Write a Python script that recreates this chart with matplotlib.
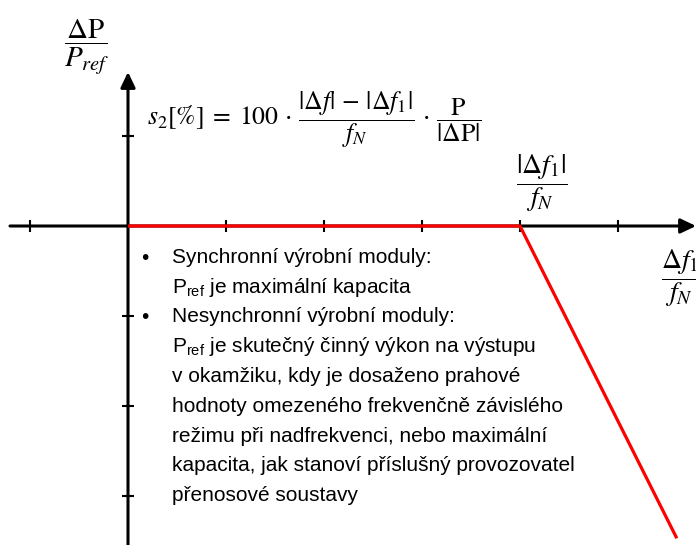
import matplotlib
matplotlib.use("Agg")
import matplotlib.pyplot as plt

# sans math for the P_ref subscripts in the bullet text
plt.rcParams['mathtext.rm'] = 'Liberation Sans'
plt.rcParams['mathtext.it'] = 'Liberation Sans:italic'
plt.rcParams['mathtext.bf'] = 'Liberation Sans:bold'

# --- data ---
x_ticks = [-1, 1, 2, 3, 4, 5]
y_ticks = [1, -1, -2, -3]
droop_x = [0, 4, 5.6]
droop_y = [0, 0, -3.47]

formula = (r"$s_2[\%]\;=\;100\,\cdot\,\dfrac{|\Delta f|\,-\,|\Delta f_1|}{f_N}"
           r"\,\cdot\,\dfrac{\mathrm{P}}{|\Delta\mathrm{P}|}$")
ylabel = r"$\dfrac{\Delta\mathrm{P}}{P_{ref}}$"
knee_label = r"$\dfrac{|\Delta f_1|}{f_N}$"
xlabel = r"$\dfrac{\Delta f_1}{f_N}$"

bullets = [
    ["Synchronní výrobní moduly:",
     r"P$_{\mathrm{ref}}$ je maximální kapacita"],
    ["Nesynchronní výrobní moduly:",
     r"P$_{\mathrm{ref}}$ je skutečný činný výkon na výstupu",
     "v okamžiku, kdy je dosaženo prahové",
     "hodnoty omezeného frekvenčně závislého",
     "režimu při nadfrekvenci, nebo maximální",
     "kapacita, jak stanoví příslušný provozovatel",
     "přenosové soustavy"],
]


def px(xp, yp):
    # pixel position of the picture -> data units (origin at 128, 226)
    return (xp - 128) / 98, (226 - yp) / 90


fig = plt.figure(figsize=(6.96, 5.45), dpi=100)
ax = fig.add_axes([0, 0, 1, 1])
ax.set_xlim(px(0, 0)[0], px(696, 0)[0])
ax.set_ylim(px(0, 545)[1], px(0, 0)[1])
ax.axis('off')

# axes with arrows
arr = dict(arrowstyle='-|>,head_length=0.42,head_width=0.2', lw=2.2,
           color='black', shrinkA=0, shrinkB=0, mutation_scale=22)
ax.annotate('', xy=px(696, 226), xytext=px(10, 226), arrowprops=arr)
ax.annotate('', xy=px(128, 72), xytext=px(128, 545), arrowprops=arr)

# tick marks
ax.plot(x_ticks, [0] * len(x_ticks), ls='none', marker='|', ms=8,
        mew=1.5, color='black')
ax.plot([0] * len(y_ticks), y_ticks, ls='none', marker='_', ms=8,
        mew=1.5, color='black')

# droop characteristic
ax.plot(droop_x, droop_y, color='#ff0000', lw=2.3, solid_capstyle='butt',
        zorder=3)

# math labels
ax.text(*px(147, 120), formula, fontsize=18.5, math_fontfamily='stix',
        ha='left', va='center')
ax.text(*px(87, 47), ylabel, fontsize=21, math_fontfamily='stix',
        ha='center', va='center')
ax.text(*px(542, 183), knee_label, fontsize=20, math_fontfamily='stix',
        ha='center', va='center')
# cut off by the right edge, as in the original slide
ax.text(*px(681, 278), xlabel, fontsize=20, math_fontfamily='stix',
        ha='center', va='center')

# bullet list
base = 263
step = 29.75
n = 0
for group in bullets:
    ax.text(*px(145, base + n * step - 5), u"\u2022", fontsize=15,
            ha='center', va='center', family='Liberation Sans')
    for line in group:
        ax.text(*px(172, base + n * step), line, fontsize=15, ha='left',
                va='baseline', family='Liberation Sans',
                math_fontfamily='custom')
        n += 1

fig.savefig('out.png', dpi=100)
